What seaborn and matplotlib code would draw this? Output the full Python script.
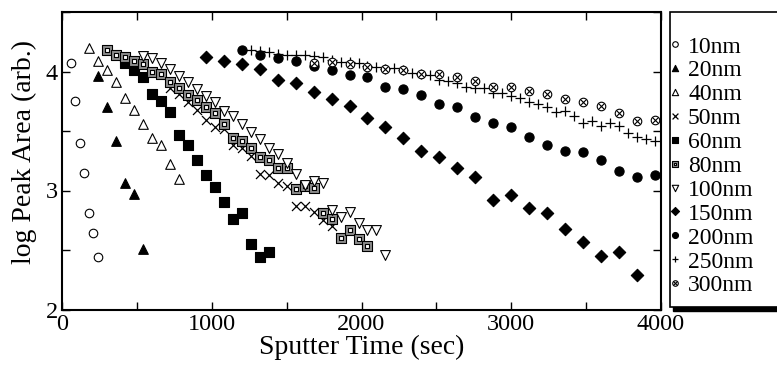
import seaborn as sns
import matplotlib.pyplot as plt
from matplotlib.patches import Rectangle
from matplotlib.ticker import MultipleLocator
from matplotlib.legend_handler import HandlerTuple

# ---------------------------------------------------------------
# Datos: tiempo de sputter (s) y log del area
# ---------------------------------------------------------------
t_10 = [60, 90, 120, 150, 180, 210, 240]
y_10 = [4.07, 3.75, 3.40, 3.15, 2.81, 2.64, 2.44]

t_20 = [240, 300, 360, 420, 480, 540]
y_20 = [3.96, 3.70, 3.42, 3.06, 2.97, 2.51]

t_40 = [180, 240, 300, 360, 420, 480, 540, 600, 660, 720, 780]
y_40 = [4.20, 4.09, 4.01, 3.91, 3.78, 3.68, 3.56, 3.44, 3.38, 3.22, 3.10]

t_50 = [720, 780, 840, 900, 960, 1020, 1080, 1140, 1200, 1260, 1320, 1380,
        1440, 1500, 1560, 1620, 1680, 1740, 1800]
y_50 = [3.86, 3.81, 3.74, 3.68, 3.59, 3.53, 3.52, 3.38, 3.36, 3.29, 3.14, 3.13,
        3.06, 3.04, 2.87, 2.87, 2.82, 2.75, 2.70]

t_60 = [420, 480, 540, 600, 660, 720, 780, 840, 900, 960, 1020, 1080, 1140,
        1200, 1260, 1320, 1380]
y_60 = [4.07, 4.01, 3.95, 3.81, 3.75, 3.66, 3.47, 3.38, 3.26, 3.13, 3.03, 2.90, 2.76,
        2.81, 2.55, 2.44, 2.48]

t_80 = [300, 360, 420, 480, 540, 600, 660, 720, 780, 840, 900, 960, 1020, 1080,
        1140, 1200, 1260, 1320, 1380, 1440, 1500, 1560, 1620, 1680, 1740, 1800,
        1860, 1920, 1980, 2040]
y_80 = [4.18, 4.14, 4.12, 4.09, 4.06, 4.00, 3.98, 3.91, 3.86, 3.80, 3.76, 3.70, 3.65, 3.56,
        3.44, 3.42, 3.36, 3.28, 3.26, 3.19, 3.19, 3.01, 3.04, 3.02, 2.81, 2.76,
        2.60, 2.67, 2.59, 2.53]

t_100 = [540, 600, 660, 720, 780, 840, 900, 960, 1020, 1080, 1140, 1200, 1260,
         1320, 1380, 1440, 1500, 1560, 1620, 1680, 1740, 1800, 1860, 1920, 1980,
         2040, 2100, 2160]
y_100 = [4.13, 4.11, 4.07, 4.02, 3.96, 3.91, 3.85, 3.79, 3.74, 3.67, 3.63, 3.56, 3.49,
         3.43, 3.36, 3.31, 3.23, 3.14, 3.05, 3.08, 3.06, 2.84, 2.78, 2.82, 2.73,
         2.67, 2.67, 2.46]

t_150 = [960, 1080, 1200, 1320, 1440, 1560, 1680, 1800, 1920, 2040, 2160, 2280,
         2400, 2520, 2640, 2760, 2880, 3000, 3120, 3240, 3360, 3480, 3600, 3720, 3840]
y_150 = [4.12, 4.09, 4.06, 4.02, 3.93, 3.90, 3.83, 3.77, 3.71, 3.61, 3.53, 3.44,
         3.33, 3.28, 3.19, 3.11, 2.92, 2.96, 2.85, 2.81, 2.68, 2.57, 2.45, 2.48, 2.29]

t_200 = [1200, 1320, 1440, 1560, 1680, 1800, 1920, 2040, 2160, 2280, 2400, 2520,
         2640, 2760, 2880, 3000, 3120, 3240, 3360, 3480, 3600, 3720, 3840, 3960]
y_200 = [4.18, 4.14, 4.11, 4.09, 4.05, 4.01, 3.97, 3.95, 3.87, 3.85, 3.80, 3.73,
         3.70, 3.62, 3.57, 3.53, 3.45, 3.38, 3.33, 3.32, 3.26, 3.16, 3.11, 3.13]

t_250 = [1260, 1320, 1380, 1440, 1500, 1560, 1620, 1680, 1740, 1800, 1860, 1920,
         1980, 2040, 2100, 2160, 2220, 2280, 2340, 2400, 2460, 2520, 2580, 2640,
         2700, 2760, 2820, 2880, 2940, 3000, 3060, 3120, 3180, 3240, 3300, 3360,
         3420, 3480, 3540, 3600, 3660, 3720, 3780, 3840, 3900, 3960]
y_250 = [4.18, 4.17, 4.16, 4.15, 4.14, 4.14, 4.14, 4.13, 4.12, 4.10, 4.08, 4.08,
         4.07, 4.05, 4.04, 4.02, 4.03, 4.01, 3.99, 3.98, 3.97, 3.93, 3.92, 3.90,
         3.87, 3.86, 3.86, 3.82, 3.82, 3.79, 3.78, 3.74, 3.73, 3.70, 3.66, 3.67,
         3.63, 3.57, 3.58, 3.54, 3.57, 3.54, 3.48, 3.45, 3.43, 3.42]

t_300 = [1680, 1800, 1920, 2040, 2160, 2280, 2400, 2520, 2640, 2760, 2880, 3000,
         3120, 3240, 3360, 3480, 3600, 3720, 3840, 3960]
y_300 = [4.07, 4.08, 4.06, 4.04, 4.02, 4.01, 3.98, 3.98, 3.95, 3.92, 3.87, 3.87,
         3.84, 3.81, 3.77, 3.74, 3.71, 3.65, 3.58, 3.59]

etiquetas = ['10nm', '20nm', '40nm', '50nm', '60nm', '80nm', '100nm',
             '150nm', '200nm', '250nm', '300nm']

# ---------------------------------------------------------------
# Estilo general
# ---------------------------------------------------------------
sns.set_style("ticks", {"axes.edgecolor": "black", "xtick.color": "black",
                        "ytick.color": "black", "text.color": "black",
                        "axes.labelcolor": "black",
                        "xtick.direction": "in", "ytick.direction": "in"})
plt.rcParams['font.family'] = ['Liberation Serif', 'DejaVu Serif']

fig = plt.figure(figsize=(7.77, 3.69), dpi=100)
ax = fig.add_axes([62 / 777, 1 - 309.5 / 369, 599 / 777, 297.5 / 369])


def puntos(t, y, marker, size, face='black', lw=0.8, z=3):
    """Dibuja una serie con seaborn y devuelve la coleccion creada."""
    if marker in ('x', '+'):
        sns.scatterplot(x=t, y=y, ax=ax, marker=marker, s=size, color='black',
                        linewidth=lw, zorder=z, legend=False)
    else:
        sns.scatterplot(x=t, y=y, ax=ax, marker=marker, s=size, facecolor=face,
                        edgecolor='black', linewidth=lw, zorder=z, legend=False)
    return ax.collections[-1]


h10 = puntos(t_10, y_10, 'o', 38, face='white')
h20 = puntos(t_20, y_20, '^', 48)
h40 = puntos(t_40, y_40, '^', 48, face='white')
h50 = puntos(t_50, y_50, 'x', 42, lw=0.9)
h60 = puntos(t_60, y_60, 's', 44)
h80a = puntos(t_80, y_80, 's', 46, face='#8c8c8c', z=4)
h80b = puntos(t_80, y_80, 's', 11, face='white', z=4.1)
h100 = puntos(t_100, y_100, 'v', 50, face='white', z=4.2)
h150 = puntos(t_150, y_150, 'D', 40)
h200 = puntos(t_200, y_200, 'o', 44)
h250 = puntos(t_250, y_250, '+', 42, lw=0.9, z=4.5)
h300a = puntos(t_300, y_300, 'o', 38, face='white', z=5)
h300b = puntos(t_300, y_300, 'x', 15, lw=0.8, z=5.1)

# ---------------------------------------------------------------
# Ejes
# ---------------------------------------------------------------
ax.set_xlim(0, 4000)
ax.set_ylim(2, 4.5)
ax.set_xticks([0, 1000, 2000, 3000, 4000])
ax.set_yticks([2, 3, 4])
ax.xaxis.set_minor_locator(MultipleLocator(500))
ax.yaxis.set_minor_locator(MultipleLocator(0.5))
ax.tick_params(which='both', direction='in', top=True, right=True,
               length=5.5, width=1, labelsize=17.5, pad=3)
for sp in ax.spines.values():
    sp.set_linewidth(1.5)

ax.set_xlabel('Sputter Time (sec)', fontsize=20)
ax.set_ylabel('log Peak Area (arb.)', fontsize=20)
ax.xaxis.set_label_coords(0.5, -0.085)
ax.yaxis.set_label_coords(-0.042, 0.53)

# ---------------------------------------------------------------
# Leyenda fuera del eje, con marco y sombra
# ---------------------------------------------------------------
sombra = Rectangle((673 / 777, 1 - 311 / 369), 140 / 777, 296 / 369,
                   transform=fig.transFigure, facecolor='black',
                   edgecolor='black', zorder=1)
marco = Rectangle((670 / 777, 1 - 307 / 369), 140 / 777, 295 / 369,
                  transform=fig.transFigure, facecolor='white',
                  edgecolor='black', linewidth=1.2, zorder=2)
fig.add_artist(sombra)
fig.add_artist(marco)

handles = [h10, h20, h40, h50, h60, (h80a, h80b), h100, h150, h200, h250,
           (h300a, h300b)]
fig.legend(handles, etiquetas, loc='upper left',
           bbox_to_anchor=(671.5 / 777, 1 - 36 / 369), frameon=False,
           borderpad=0, borderaxespad=0, handlelength=0.3, handletextpad=0.4,
           labelspacing=0.1, fontsize=17, markerscale=0.65,
           scatteryoffsets=[0.5], handler_map={tuple: HandlerTuple(ndivide=1)})

fig.savefig('out.png', dpi=100)
